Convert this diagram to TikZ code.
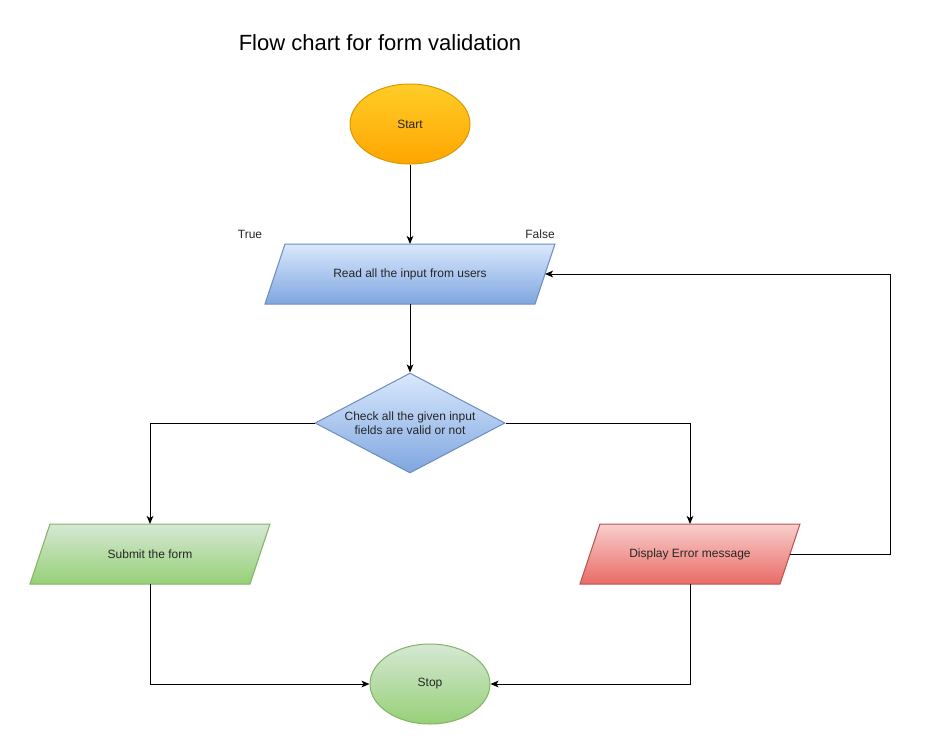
\documentclass[tikz,border=0pt]{standalone}
\usepackage{fontspec}
\setmainfont{Liberation Sans}
\usetikzlibrary{shapes.geometric,arrows.meta,backgrounds}
\definecolor{orTop}{HTML}{FFCD28}
\definecolor{orBot}{HTML}{FFA500}
\definecolor{orLine}{HTML}{D79B00}
\definecolor{blTop}{HTML}{DAE8FC}
\definecolor{blBot}{HTML}{7EA6E0}
\definecolor{blLine}{HTML}{6C8EBF}
\definecolor{grTop}{HTML}{D5E8D4}
\definecolor{grBot}{HTML}{97D077}
\definecolor{grLine}{HTML}{82B366}
\definecolor{rdTop}{HTML}{F8CECC}
\definecolor{rdBot}{HTML}{EA6B66}
\definecolor{rdLine}{HTML}{B85450}
\tikzset{
  base/.style={line width=0.75pt, inner sep=2pt, font=\fontsize{9pt}{10.5pt}\selectfont, text=black!85, align=center},
  oval/.style={base, ellipse, minimum width=90pt, minimum height=60pt},
  para/.style={base, rectangle, minimum height=45pt, inner sep=0pt, outer sep=0pt},
  dec/.style={base, diamond, minimum width=142.5pt, minimum height=75pt, inner sep=0pt},
  orfill/.style={draw=orLine, top color=orTop, bottom color=orBot},
  blfill/.style={draw=blLine, top color=blTop, bottom color=blBot},
  grfill/.style={draw=grLine, top color=grTop, bottom color=grBot},
  rdfill/.style={draw=rdLine, top color=rdTop, bottom color=rdBot},
  conn/.style={line width=0.75pt, -{Stealth[length=6pt,width=5pt,inset=1.5pt]}},
  lbl/.style={font=\fontsize{9pt}{10.5pt}\selectfont, text=black!85}
}
\newcommand{\parashape}[2]{\path[line width=0.75pt,#2] ([xshift=7.5pt]#1.north west) -- ([xshift=7.5pt]#1.north east) -- ([xshift=-7.5pt]#1.south east) -- ([xshift=-7.5pt]#1.south west) -- cycle;}
\begin{document}
\begin{tikzpicture}[x=0.75pt,y=-0.75pt]
\useasboundingbox (0,0) rectangle (929,754);
\node[font=\fontsize{16.5pt}{19pt}\selectfont, text=black] (title) at (380,43) {Flow chart for form validation};
\node[oval, orfill] (start) at (410,124) {Start};
\node[para, minimum width=202.5pt] (read) at (410,274) {Read all the input from users};
\node[dec, blfill, label={[lbl, align=center]center:Check all the given input\\fields are valid or not}] (check) at (410,423) {};
\node[para, minimum width=165pt] (submit) at (150,554) {Submit the form};
\node[para, minimum width=150pt] (disp) at (690,554) {Display Error message};
\node[oval, grfill] (stop) at (430,684) {Stop};
\node[lbl] (true) at (250,234) {True};
\node[lbl] (false) at (540,234) {False};
\begin{scope}[on background layer]
\parashape{read}{blfill}
\parashape{submit}{grfill}
\parashape{disp}{rdfill}
\end{scope}
\coordinate (loop) at (890,554);
\draw[conn] (start) -- (read);
\draw[conn] (read) -- (check);
\draw[conn] (check.west) -| (submit.north);
\draw[conn] (check.east) -| (disp.north);
\draw[conn] (disp.east) -- (loop) |- (read.east);
\draw[conn] (submit.south) |- (stop.west);
\draw[conn] (disp.south) |- (stop.east);
\end{tikzpicture}
\end{document}
